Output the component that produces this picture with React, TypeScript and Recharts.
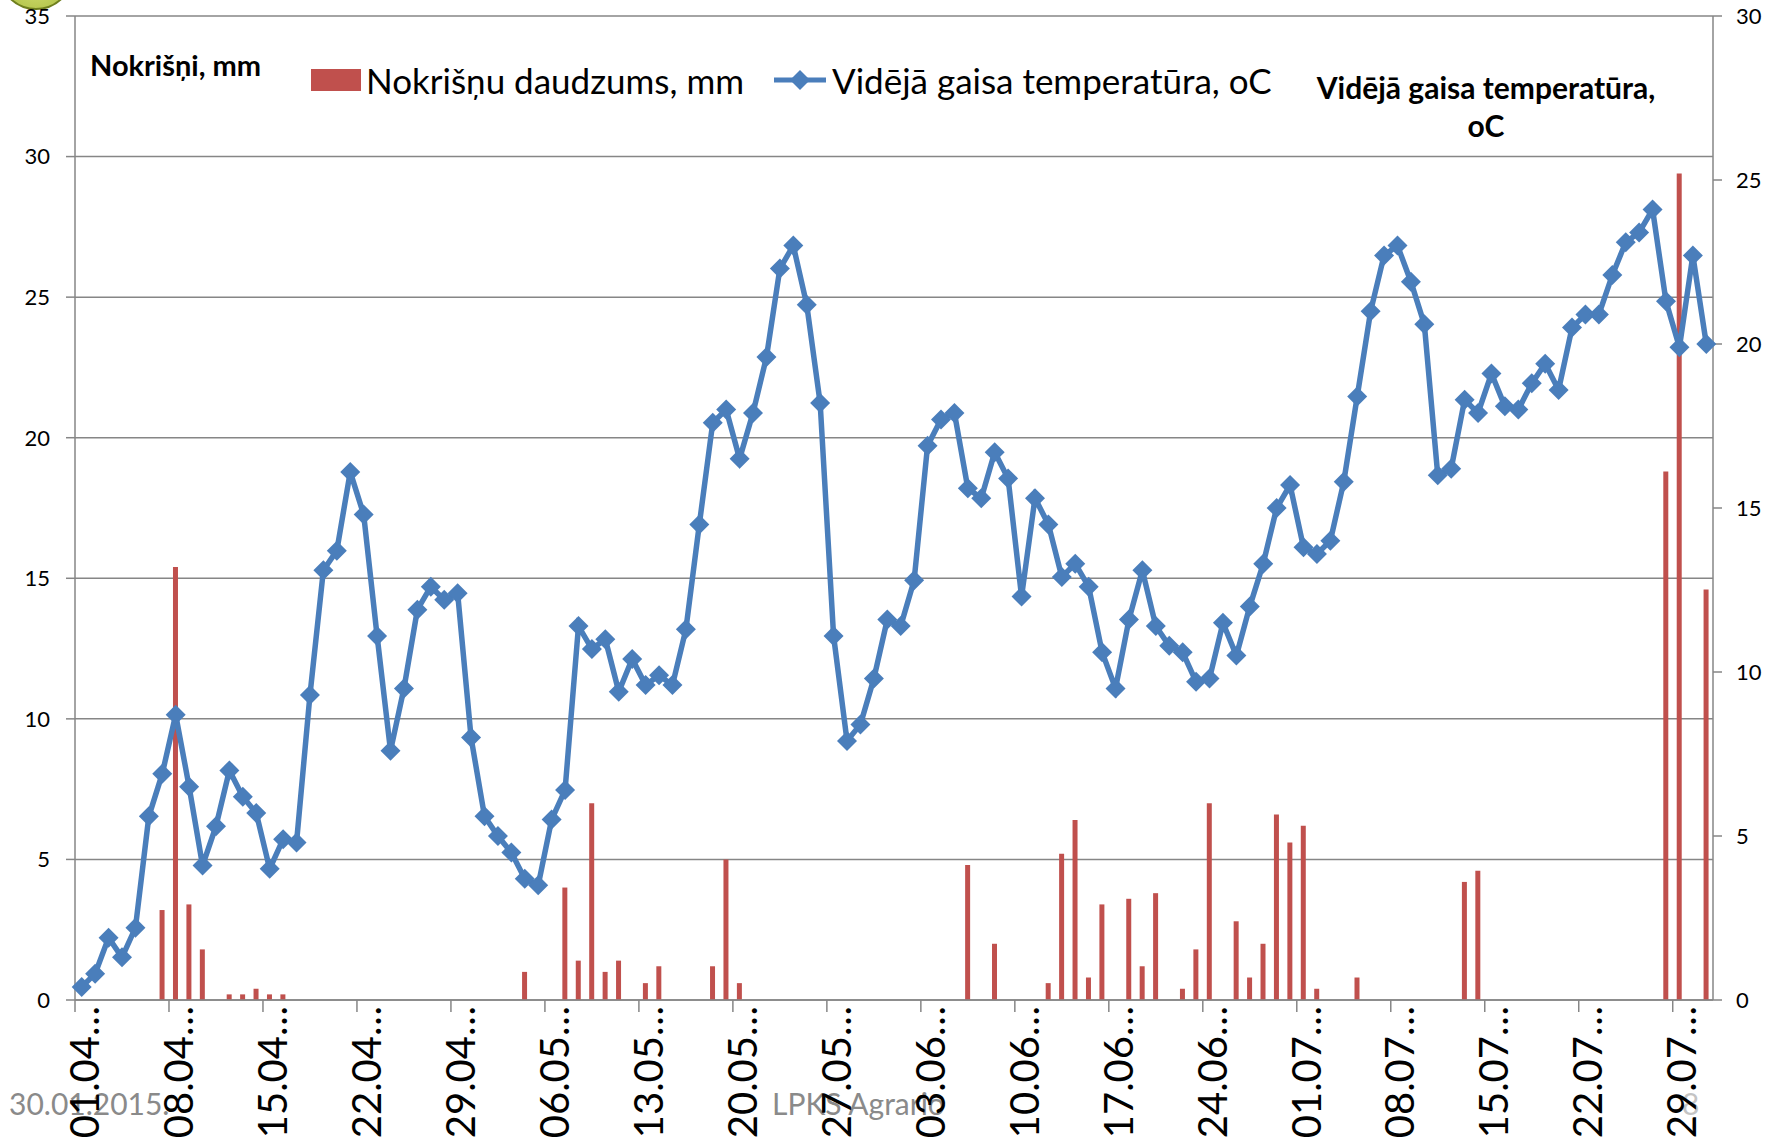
import { ComposedChart, Bar, Line, XAxis, YAxis, CartesianGrid } from "recharts";

// daily dates 01.04 - 31.07
const dates = [
  "01.04", "02.04", "03.04", "04.04", "05.04", "06.04", "07.04", "08.04", "09.04", "10.04",
  "11.04", "12.04", "13.04", "14.04", "15.04", "16.04", "17.04", "18.04", "19.04", "20.04",
  "21.04", "22.04", "23.04", "24.04", "25.04", "26.04", "27.04", "28.04", "29.04", "30.04",
  "01.05", "02.05", "03.05", "04.05", "05.05", "06.05", "07.05", "08.05", "09.05", "10.05",
  "11.05", "12.05", "13.05", "14.05", "15.05", "16.05", "17.05", "18.05", "19.05", "20.05",
  "21.05", "22.05", "23.05", "24.05", "25.05", "26.05", "27.05", "28.05", "29.05", "30.05",
  "31.05", "01.06", "02.06", "03.06", "04.06", "05.06", "06.06", "07.06", "08.06", "09.06",
  "10.06", "11.06", "12.06", "13.06", "14.06", "15.06", "16.06", "17.06", "18.06", "19.06",
  "20.06", "21.06", "22.06", "23.06", "24.06", "25.06", "26.06", "27.06", "28.06", "29.06",
  "30.06", "01.07", "02.07", "03.07", "04.07", "05.07", "06.07", "07.07", "08.07", "09.07",
  "10.07", "11.07", "12.07", "13.07", "14.07", "15.07", "16.07", "17.07", "18.07", "19.07",
  "20.07", "21.07", "22.07", "23.07", "24.07", "25.07", "26.07", "27.07", "28.07", "29.07",
  "30.07", "31.07",
];

// Nokrišņu daudzums, mm (left axis)
const precipitation = [
  0, 0, 0, 0, 0, 0, 3.2, 15.4, 3.4, 1.8,
  0, 0.2, 0.2, 0.4, 0.2, 0.2, 0, 0, 0, 0,
  0, 0, 0, 0, 0, 0, 0, 0, 0, 0,
  0, 0, 0, 1.0, 0, 0, 4.0, 1.4, 7.0, 1.0,
  1.4, 0, 0.6, 1.2, 0, 0, 0, 1.2, 5.0, 0.6,
  0, 0, 0, 0, 0, 0, 0, 0, 0, 0,
  0, 0, 0, 0, 0, 0, 4.8, 0, 2.0, 0,
  0, 0, 0.6, 5.2, 6.4, 0.8, 3.4, 0, 3.6, 1.2,
  3.8, 0, 0.4, 1.8, 7.0, 0, 2.8, 0.8, 2.0, 6.6,
  5.6, 6.2, 0.4, 0, 0, 0.8, 0, 0, 0, 0,
  0, 0, 0, 4.2, 4.6, 0, 0, 0, 0, 0,
  0, 0, 0, 0, 0, 0, 0, 0, 18.8, 29.4,
  0, 14.6,
];

// Vidējā gaisa temperatūra, oC (right axis)
const temperature = [
  0.4, 0.8, 1.9, 1.3, 2.2, 5.6, 6.9, 8.7, 6.5, 4.1,
  5.3, 7.0, 6.2, 5.7, 4.0, 4.9, 4.8, 9.3, 13.1, 13.7,
  16.1, 14.8, 11.1, 7.6, 9.5, 11.9, 12.6, 12.2, 12.4, 8.0,
  5.6, 5.0, 4.5, 3.7, 3.5, 5.5, 6.4, 11.4, 10.7, 11.0,
  9.4, 10.4, 9.6, 9.9, 9.6, 11.3, 14.5, 17.6, 18.0, 16.5,
  17.9, 19.6, 22.3, 23.0, 21.2, 18.2, 11.1, 7.9, 8.4, 9.8,
  11.6, 11.4, 12.8, 16.9, 17.7, 17.9, 15.6, 15.3, 16.7, 15.9,
  12.3, 15.3, 14.5, 12.9, 13.3, 12.6, 10.6, 9.5, 11.6, 13.1,
  11.4, 10.8, 10.6, 9.7, 9.8, 11.5, 10.5, 12.0, 13.3, 15.0,
  15.7, 13.8, 13.6, 14.0, 15.8, 18.4, 21.0, 22.7, 23.0, 21.9,
  20.6, 16.0, 16.2, 18.3, 17.9, 19.1, 18.1, 18.0, 18.8, 19.4,
  18.6, 20.5, 20.9, 20.9, 22.1, 23.1, 23.4, 24.1, 21.3, 19.9,
  22.7, 20.0,
];

const leftTicks = [0, 5, 10, 15, 20, 25, 30, 35];
const rightTicks = [0, 5, 10, 15, 20, 25, 30];

const W = 1779;
const H = 1138;
const PLOT_LEFT = 75;
const PLOT_RIGHT = 1713;
const PLOT_TOP = 16;
const PLOT_BOTTOM = 1000;
const BAND = (PLOT_RIGHT - PLOT_LEFT) / dates.length;

const FONT = "Lato, 'Open Sans', sans-serif";
const GRID = "#868686";
const RED = "#C0504D";
const BLUE = "#4A7EBB";

const data = dates.map((d, i) => ({ date: d, precip: precipitation[i], temp: temperature[i] }));

const DateTick = (props: any) => {
  const { x, y, payload } = props;
  const bx = x - BAND / 2;
  return (
    <g>
      <line x1={bx} x2={bx} y1={y} y2={y + 12} stroke={GRID} strokeWidth={1.5} />
      <text
        transform={`translate(${x + 2},${y + 6}) rotate(-90)`}
        textAnchor="end"
        dominantBaseline="central"
        fontSize={40}
        fontFamily={FONT}
        fill="#000"
      >
        {payload.value}…
      </text>
    </g>
  );
};

const Diamond = (p: any) => {
  const { cx, cy, index } = p;
  if (cx == null || cy == null) return <g key={index} />;
  const r = 10;
  return (
    <path
      key={index}
      d={`M${cx},${cy - r}L${cx + r},${cy}L${cx},${cy + r}L${cx - r},${cy}Z`}
      fill={BLUE}
    />
  );
};

const text = (left: number, cy: number, size: number, extra: any = {}) => ({
  position: "absolute" as const,
  left,
  top: cy - size / 2,
  fontSize: size,
  lineHeight: `${size}px`,
  fontFamily: FONT,
  whiteSpace: "nowrap" as const,
  color: "#000",
  ...extra,
});

export default function App() {
  return (
    <div
      style={{
        position: "absolute",
        left: 0,
        top: 0,
        width: W,
        height: H,
        background: "#fff",
        overflow: "hidden",
        fontFamily: FONT,
      }}
    >
      {/* logo remnant at the top-left corner */}
      <div
        style={{
          position: "absolute",
          left: -2,
          top: -66,
          width: 72,
          height: 72,
          borderRadius: "50%",
          background: "radial-gradient(circle at 50% 60%, #d8e37a, #9bb02c)",
          border: "2px solid #6f7f1e",
        }}
      />

      {/* footer of the slide */}
      <div style={text(9, 1103, 30, { color: "#8a8a8a" })}>30.01.2015.</div>
      <div style={text(772, 1103, 30, { color: "#8a8a8a" })}>LPKS Agrario</div>
      <div style={text(1682, 1103, 30, { color: "#c4c4c4" })}>8</div>

      <div style={{ position: "absolute", left: 0, top: 0 }}>
        <ComposedChart
          width={W}
          height={H}
          data={data}
          margin={{ top: PLOT_TOP, right: 0, bottom: 0, left: 0 }}
        >
          <CartesianGrid yAxisId="left" vertical={false} stroke={GRID} strokeWidth={1.5} />
          <XAxis
            dataKey="date"
            interval={6}
            height={H - PLOT_BOTTOM}
            tickSize={0}
            tickMargin={0}
            tickLine={false}
            tick={<DateTick />}
            axisLine={{ stroke: GRID, strokeWidth: 1.5 }}
          />
          <YAxis
            yAxisId="left"
            width={PLOT_LEFT}
            domain={[0, 35]}
            ticks={leftTicks}
            tickSize={9}
            tickMargin={16}
            axisLine={{ stroke: GRID, strokeWidth: 1.5 }}
            tickLine={{ stroke: GRID, strokeWidth: 1.5 }}
            tick={{ fontSize: 22, fill: "#000", fontFamily: FONT }}
          />
          <YAxis
            yAxisId="right"
            orientation="right"
            width={W - PLOT_RIGHT}
            domain={[0, 30]}
            ticks={rightTicks}
            tickSize={9}
            tickMargin={14}
            axisLine={{ stroke: GRID, strokeWidth: 1.5 }}
            tickLine={{ stroke: GRID, strokeWidth: 1.5 }}
            tick={{ fontSize: 22, fill: "#000", fontFamily: FONT, textAnchor: "start" }}
          />
          <Bar yAxisId="left" dataKey="precip" fill={RED} barSize={5} isAnimationActive={false} />
          <Line
            yAxisId="right"
            type="linear"
            dataKey="temp"
            stroke={BLUE}
            strokeWidth={5.5}
            dot={Diamond}
            activeDot={false}
            isAnimationActive={false}
          />
        </ComposedChart>
      </div>

      {/* axis titles */}
      <div style={text(90, 64, 29, { fontWeight: 700 })}>Nokrišņi, mm</div>
      <div
        style={{
          position: "absolute",
          left: 1286,
          width: 400,
          top: 68,
          textAlign: "center",
          fontSize: 30,
          lineHeight: "38px",
          fontWeight: 700,
          fontFamily: FONT,
          whiteSpace: "nowrap",
        }}
      >
        Vidējā gaisa temperatūra,
        <br />
        oC
      </div>

      {/* legend */}
      <div style={{ position: "absolute", left: 311, top: 69, width: 50, height: 22, background: RED }} />
      <div style={text(366, 80, 35)}>Nokrišņu daudzums, mm</div>
      <svg style={{ position: "absolute", left: 772, top: 66 }} width={56} height={28}>
        <line x1={2} x2={54} y1={14} y2={14} stroke={BLUE} strokeWidth={5} />
        <path d="M28,4L38,14L28,24L18,14Z" fill={BLUE} />
      </svg>
      <div style={text(832, 80, 35)}>Vidējā gaisa temperatūra, oC</div>
    </div>
  );
}
